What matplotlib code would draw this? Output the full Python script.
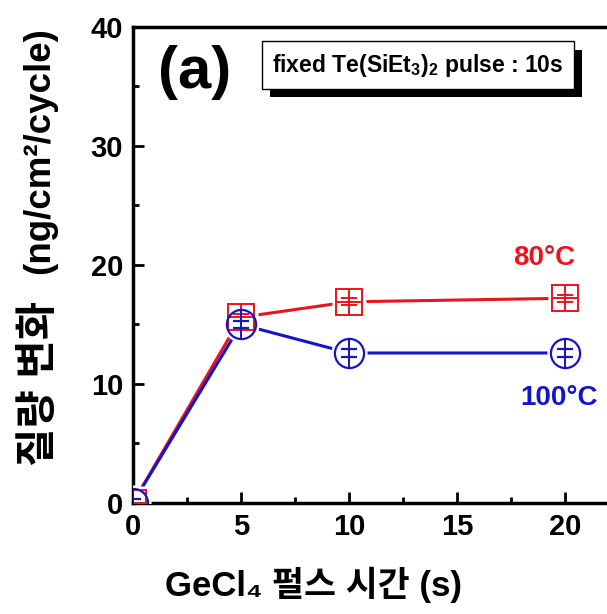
import matplotlib
matplotlib.use("Agg")
import matplotlib.pyplot as plt
import matplotlib.patheffects as pe

plt.rcParams['font.family'] = ['Liberation Sans', 'Noto Sans CJK KR', 'DejaVu Sans']
plt.rcParams['mathtext.fontset'] = 'custom'
plt.rcParams['mathtext.rm'] = 'Liberation Sans'
plt.rcParams['mathtext.bf'] = 'Liberation Sans:bold'

pulse_time = [0, 5, 10, 20]
mass_80 = [0, 15.6, 16.9, 17.2]
mass_100 = [0, 15.0, 12.6, 12.6]
err_80 = [0.3, 0.3, 0.3, 0.3]
err_100 = [0.3, 0.3, 0.3, 0.3]

red = '#e8141e'
blue = '#1414c8'

fig = plt.figure(figsize=(6.07, 6.14), dpi=100)
ax = fig.add_axes([0.219, 0.181, 0.783, 0.775])

# lines, then white halos so lines stop short of the markers (Origin style)
for y, c, m, ms in [(mass_80, red, 's', 19), (mass_100, blue, 'o', 21)]:
    ax.plot(pulse_time, y, color=c, lw=2.2, zorder=2)
    ax.plot(pulse_time, y, ls='none', marker=m, ms=ms + 5, mfc='white', mec='none', zorder=3)

ax.errorbar(pulse_time, mass_80, yerr=err_80, fmt='s', ms=19, mfc='none', mec=red,
            mew=1.4, ecolor=red, elinewidth=1.2, capsize=6, zorder=4)
ax.plot(pulse_time, mass_80, ls='none', marker='+', ms=19, mec=red, mew=1.4, zorder=4)
ax.errorbar(pulse_time, mass_100, yerr=err_100, fmt='o', ms=21, mfc='none', mec=blue,
            mew=1.6, ecolor=blue, elinewidth=1.2, capsize=6, zorder=5)
ax.plot(pulse_time, mass_100, ls='none', marker='|', ms=21, mec=blue, mew=1.4, zorder=5)

ax.set_xlim(0, 22)
ax.set_ylim(0, 40)
ax.set_xticks([0, 5, 10, 15, 20])
ax.set_yticks([0, 10, 20, 30, 40])
ax.set_xticks([2.5, 7.5, 12.5, 17.5], minor=True)
ax.set_yticks([5, 15, 25, 35], minor=True)
ax.tick_params(which='both', direction='in', width=2, labelsize=21, pad=7)
ax.tick_params(which='major', length=8)
ax.tick_params(which='minor', length=4)
for lbl in ax.get_xticklabels() + ax.get_yticklabels():
    lbl.set_fontweight('bold')
for s in ax.spines.values():
    s.set_linewidth(2.5)

ax.set_xlabel('GeCl\u2084 펄스 시간 (s)', fontsize=25, fontweight='bold')
ax.xaxis.set_label_coords(0.38, -0.135)

# y label in two parts: the Korean words are set larger than the units
fig.text(0.066, 0.375, '질량 변화', rotation=90, fontsize=30, fontweight='bold',
         ha='center', va='center')
fig.text(0.066, 0.755, '(ng/cm²/cycle)', rotation=90, fontsize=26.5, fontweight='bold',
         ha='center', va='center')

ax.text(0.13, 0.905, '(a)', transform=ax.transAxes, fontsize=43, fontweight='bold',
        ha='center', va='center')
t = ax.text(0.6, 0.92, 'fixed Te(SiEt$_\\mathbf{3}$)$_\\mathbf{2}$ pulse : 10s', transform=ax.transAxes,
            fontsize=16.5, fontweight='bold', ha='center', va='center',
            bbox=dict(boxstyle='square,pad=0.45', fc='white', ec='black', lw=1.0))
t.get_bbox_patch().set_path_effects([
    pe.SimplePatchShadow(offset=(6, -6), shadow_rgbFace='black', alpha=1.0), pe.Normal()])
ax.text(0.93, 0.515, '80°C', transform=ax.transAxes, fontsize=20, fontweight='bold',
        color=red, ha='right', va='center')
ax.text(0.977, 0.22, '100°C', transform=ax.transAxes, fontsize=20, fontweight='bold',
        color=blue, ha='right', va='center')

fig.savefig('out.png', dpi=100)
